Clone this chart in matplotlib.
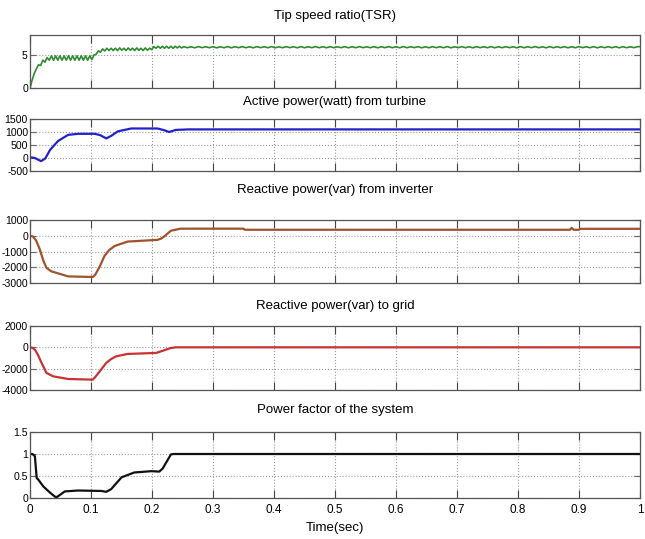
import numpy as np
import matplotlib
matplotlib.use("Agg")
import matplotlib.pyplot as plt

plt.rcParams["font.family"] = ["Liberation Sans", "DejaVu Sans"]

# ---- data ----
# TSR: first part sampled every 3.5 ms, later part every 6 ms
tsr_early_step = 0.0035
tsr_early = [
    0, 1.2, 2.2, 2.9, 3.5, 3.4, 4.2, 3.9, 4.6, 4.2,
    4.85, 4.2, 4.85, 4.2, 4.85, 4.2, 4.85, 4.2, 4.85, 4.2,
    4.85, 4.2, 4.85, 4.2, 4.85, 4.2, 4.85, 4.2, 4.85, 4.3,
    5.0, 5.1, 5.6, 5.4, 5.9, 5.6, 6.0, 5.65, 6.0, 5.65,
    6.0, 5.65, 6.05, 5.7, 6.0, 5.65, 6.05, 5.7, 6.0, 5.65,
    6.05, 5.7, 6.0, 5.65, 6.05, 5.7, 6.0, 5.8, 6.25, 6.0,
    6.3, 6.0, 6.3, 6.0, 6.3, 6.0, 6.3, 6.0, 6.3, 6.05,
    6.3, 6.05,
]
tsr_late_start = 0.252
tsr_late_step = 0.006
tsr_late = [
    6.24, 6.08, 6.22, 6.07, 6.25, 6.09, 6.23, 6.08, 6.24, 6.06,
    6.22, 6.08, 6.25, 6.07, 6.23, 6.09, 6.24, 6.08, 6.22, 6.07,
    6.24, 6.09, 6.23, 6.08, 6.25, 6.07, 6.22, 6.08, 6.24, 6.09,
    6.23, 6.07, 6.24, 6.08, 6.22, 6.09, 6.25, 6.08, 6.23, 6.07,
    6.24, 6.08, 6.22, 6.09, 6.24, 6.07, 6.23, 6.08, 6.25, 6.09,
    6.22, 6.08, 6.24, 6.07, 6.23, 6.09, 6.24, 6.08, 6.22, 6.07,
    6.25, 6.08, 6.23, 6.09, 6.24, 6.07, 6.22, 6.08, 6.24, 6.09,
    6.23, 6.08, 6.25, 6.07, 6.22, 6.09, 6.24, 6.08, 6.23, 6.07,
    6.24, 6.09, 6.22, 6.08, 6.25, 6.07, 6.23, 6.08, 6.24, 6.09,
    6.22, 6.07, 6.24, 6.08, 6.23, 6.09, 6.25, 6.08, 6.22, 6.07,
    6.24, 6.08, 6.23, 6.09, 6.24, 6.07, 6.22, 6.08, 6.25, 6.09,
    6.23, 6.08, 6.24, 6.07, 6.22, 6.09, 6.24, 6.08, 6.23, 6.07,
    6.24, 6.08, 6.22, 6.09, 6.24,
]

p_turb_t = [0, 0.008, 0.018, 0.025, 0.033, 0.046, 0.0625, 0.079, 0.106,
            0.115, 0.125, 0.133, 0.144, 0.166, 0.209, 0.22, 0.228, 0.239,
            0.26, 1.0]
p_turb = [30, 0, -120, -20, 315, 655, 890, 930, 930,
          880, 755, 850, 1025, 1135, 1135, 1070, 1000, 1080,
          1100, 1100]

q_inv_t = [0, 0.005, 0.01, 0.016, 0.022, 0.027, 0.035, 0.0625, 0.103,
           0.107, 0.115, 0.122, 0.13, 0.139, 0.16, 0.209, 0.215, 0.22,
           0.231, 0.247, 0.35, 0.352, 0.885, 0.888, 0.891, 0.9, 0.902, 1.0]
q_inv = [0, -50, -300, -860, -1600, -2040, -2260, -2580, -2620,
         -2470, -1900, -1290, -900, -645, -370, -260, -180, -45,
         320, 450, 450, 380, 380, 500, 380, 380, 440, 440]

q_grid_t = [0, 0.004, 0.008, 0.013, 0.019, 0.027, 0.038, 0.063, 0.103,
            0.107, 0.115, 0.125, 0.133, 0.141, 0.16, 0.207, 0.215, 0.231,
            0.239, 1.0]
q_grid = [0, -50, -215, -700, -1460, -2400, -2720, -2970, -3030,
          -2780, -2200, -1460, -1100, -845, -620, -525, -370, -60,
          0, 0]

pf_t = [0, 0.004, 0.008, 0.011, 0.013, 0.022, 0.033, 0.041, 0.044,
        0.05, 0.057, 0.079, 0.117, 0.125, 0.133, 0.15, 0.171, 0.199,
        0.212, 0.2175, 0.231, 0.235, 1.0]
pf = [1.0, 1.0, 0.95, 0.45, 0.43, 0.26, 0.12, 0.03, 0.02,
      0.08, 0.15, 0.17, 0.16, 0.14, 0.2, 0.47, 0.58, 0.61,
      0.6, 0.67, 0.99, 1.0, 1.0]

titles = [
    "Tip speed ratio(TSR)",
    "Active power(watt) from turbine",
    "Reactive power(var) from inverter",
    "Reactive power(var) to grid",
    "Power factor of the system",
]
ylims = [(0, 8), (-500, 1500), (-3000, 1000), (-4000, 2000), (0, 1.5)]
yticks = [
    [0, 5],
    [-500, 0, 500, 1000, 1500],
    [-3000, -2000, -1000, 0, 1000],
    [-4000, -2000, 0, 2000],
    [0, 0.5, 1, 1.5],
]
ytick_labels = [
    ["0", "5"],
    ["-500", "0", "500", "1000", "1500"],
    ["-3000", "-2000", "-1000", "0", "1000"],
    ["-4000", "-2000", "0", "2000"],
    ["0", "0.5", "1", "1.5"],
]
xticks = [0, 0.1, 0.2, 0.3, 0.4, 0.5, 0.6, 0.7, 0.8, 0.9, 1.0]
xtick_labels = ["0", "0.1", "0.2", "0.3", "0.4", "0.5", "0.6", "0.7", "0.8", "0.9", "1"]
colors = ["#2e8b2e", "#2222c8", "#a0522d", "#c83232", "#111111"]

# pixel boxes of the axes (top, bottom) and title centres in the 645x539 picture
W, H = 645.0, 539.0
ax_left, ax_right = 30, 640
boxes = [(35, 88), (119, 171), (220, 283), (326, 390), (432, 498)]
title_y = [16, 102, 190, 306, 410]


def style_axes(ax, k):
    ax.set_xlim(0, 1)
    ax.set_ylim(*ylims[k])
    ax.set_yticks(yticks[k])
    ax.set_yticklabels(ytick_labels[k])
    ax.set_xticks(xticks)
    if k == 4:
        ax.set_xticklabels(xtick_labels)
    else:
        ax.set_xticklabels([])

    ax.grid(True, linestyle=":", color="#9a9a9a", linewidth=0.8)
    for sp in ax.spines.values():
        sp.set_color("#555555")
        sp.set_linewidth(0.9)

    ax.tick_params(
        axis="x",
        direction="in",
        top=True,
        length=6,
        width=0.8,
        color="#444444",
        labelsize=8.5,
        pad=4
    )
    ax.tick_params(
        axis="y",
        direction="in",
        right=True,
        length=4,
        width=0.8,
        color="#666666",
        labelsize=7.6,
        pad=1.5
    )


fig = plt.figure(figsize=(W / 100, H / 100), dpi=100)

series = [
    None,
    (p_turb_t, p_turb),
    (q_inv_t, q_inv),
    (q_grid_t, q_grid),
    (pf_t, pf),
]

for k in range(5):
    top, bottom = boxes[k]
    ax = fig.add_axes([
        ax_left / W,
        1 - bottom / H,
        (ax_right - ax_left) / W,
        (bottom - top) / H
    ])

    if k == 0:
        t1 = np.arange(len(tsr_early)) * tsr_early_step
        t2 = tsr_late_start + np.arange(len(tsr_late)) * tsr_late_step
        ax.plot(np.concatenate([t1, t2, [1.0]]),
                tsr_early + tsr_late + [tsr_late[-1]],
                color=colors[k], linewidth=1.2)
    else:
        t, v = series[k]
        ax.plot(t, v, color=colors[k], linewidth=1.6)

    style_axes(ax, k)

    fig.text(
        (ax_left + ax_right) / 2 / W,
        1 - title_y[k] / H,
        titles[k],
        ha="center",
        va="center",
        fontsize=9.5
    )

fig.text(
    (ax_left + ax_right) / 2 / W,
    1 - 528 / H,
    "Time(sec)",
    ha="center",
    va="center",
    fontsize=9.5
)

fig.savefig("out.png", dpi=100)
